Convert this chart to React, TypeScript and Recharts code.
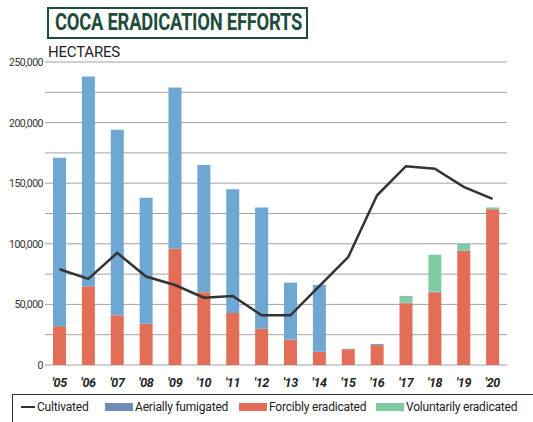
import React from "react";
import {
  ComposedChart, Bar, Line, XAxis, YAxis, CartesianGrid,
} from "recharts";

// ─── Data (hectares) ─────────────────────────────────────
const years = ["'05", "'06", "'07", "'08", "'09", "'10", "'11", "'12", "'13", "'14", "'15", "'16", "'17", "'18", "'19", "'20"];
const cultivated = [79000, 71000, 92500, 73000, 66000, 55500, 57000, 41000, 41000, 65000, 89000, 140000, 164000, 162000, 147000, 137000];
const forcibly = [32000, 65000, 41000, 34000, 96000, 60000, 43000, 30000, 21000, 11000, 13000, 16400, 51000, 60000, 94000, 128500];
const aerially = [139000, 173000, 153000, 104000, 133000, 105000, 102000, 100000, 47000, 55000, 400, 1000, 600, 500, 300, 0];
const voluntarily = [0, 0, 0, 0, 0, 0, 0, 0, 0, 0, 0, 0, 5400, 30500, 5700, 1500];
const yTicks = [0, 25000, 50000, 75000, 100000, 125000, 150000, 175000, 200000, 225000, 250000];

const data = years.map((year, i) => ({
  year,
  cultivated: cultivated[i],
  forcibly: forcibly[i],
  aerially: aerially[i],
  voluntarily: voluntarily[i],
}));

const BLUE = "#6fa7d3";
const RED = "#e26e58";
const GREEN = "#7ecba4";
const DARK_GREEN = "#1e4d3c";
const FONT = "Roboto, 'Noto Sans', sans-serif";

// only every other grid step carries a label
function YTick({ y, payload }: any) {
  if (payload.value % 50000 !== 0) return null;
  return (
    <text x={43} y={y} dy={4} textAnchor="end" fontSize={10.5} fill="#333" fontFamily={FONT} letterSpacing={-0.5}>
      {payload.value.toLocaleString("en-US")}
    </text>
  );
}

function XTick({ x, y, payload }: any) {
  return (
    <text x={x} y={y} dy={14} textAnchor="middle" fontSize={12.5} fontWeight={700} fontStyle="italic" fill="#222" fontFamily={FONT} letterSpacing={-0.3}>
      {payload.value}
    </text>
  );
}

const legendItems = [
  { label: "Cultivated", kind: "line", color: "#333", x: 21 },
  { label: "Aerially fumigated", kind: "box", color: "#6f8ab6", x: 105 },
  { label: "Forcibly eradicated", kind: "box", color: RED, x: 239 },
  { label: "Voluntarily eradicated", kind: "box", color: GREEN, x: 376 },
];

export default function App() {
  return (
    <div style={{ position: "absolute", left: 0, top: 0, width: 533, height: 422, background: "#fff", overflow: "hidden", fontFamily: FONT }}>
      {/* Title box */}
      <div style={{
        position: "absolute", left: 47, top: 7, width: 257, height: 28,
        border: `2px solid ${DARK_GREEN}`, overflow: "hidden",
      }}>
        <div style={{
          position: "absolute", left: 6, top: 0, whiteSpace: "nowrap",
          fontSize: 23, fontWeight: 700, color: DARK_GREEN,
          transform: "scaleX(0.8)", transformOrigin: "left center", letterSpacing: -0.3,
        }}>
          COCA ERADICATION EFFORTS
        </div>
      </div>
      <div style={{ position: "absolute", left: 48, top: 43, fontSize: 15, color: "#222", letterSpacing: -0.2 }}>
        HECTARES
      </div>

      <div style={{ position: "absolute", left: 0, top: 0 }}>
        <ComposedChart
          width={533}
          height={400}
          data={data}
          margin={{ top: 62, right: 26, left: 0, bottom: 0 }}
          barCategoryGap={0}
        >
          <CartesianGrid vertical={false} stroke="#a3a3a3" strokeWidth={1} />
          <XAxis dataKey="year" axisLine={false} tickLine={false} tick={<XTick />} height={35} interval={0} />
          <YAxis
            domain={[0, 250000]}
            ticks={yTicks}
            axisLine={false}
            tickLine={false}
            width={45}
            tick={<YTick />}
            interval={0}
          />
          <Bar dataKey="forcibly" stackId="a" fill={RED} barSize={13} isAnimationActive={false} />
          <Bar dataKey="aerially" stackId="a" fill={BLUE} barSize={13} isAnimationActive={false} />
          <Bar dataKey="voluntarily" stackId="a" fill={GREEN} barSize={13} isAnimationActive={false} />
          <Line
            type="linear"
            dataKey="cultivated"
            stroke="#333"
            strokeWidth={2.5}
            dot={false}
            isAnimationActive={false}
          />
        </ComposedChart>
      </div>

      {/* Legend */}
      <div style={{
        position: "absolute", left: 12, top: 394, width: 540, height: 40,
        borderTop: "1px solid #333", borderLeft: "1px solid #333",
      }} />
      {legendItems.map((item) => (
        <div key={item.label} style={{ position: "absolute", left: item.x, top: 399, height: 16, display: "flex", alignItems: "center", whiteSpace: "nowrap" }}>
          {item.kind === "line" ? (
            <span style={{ display: "inline-block", width: 14, height: 2, background: item.color, marginRight: 2 }} />
          ) : (
            <span style={{ display: "inline-block", width: 28, height: 8, background: item.color, marginRight: 2 }} />
          )}
          <span style={{ fontSize: 12, color: "#222", letterSpacing: -0.2 }}>{item.label}</span>
        </div>
      ))}
    </div>
  );
}
